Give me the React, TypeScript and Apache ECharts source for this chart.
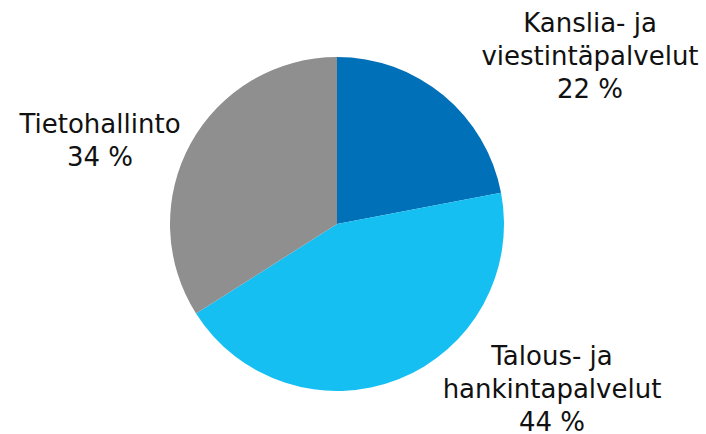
import React, { useEffect, useRef } from "react";
import * as echarts from "echarts";

const categories = ["Kanslia- ja\nviestintäpalvelut", "Talous- ja\nhankintapalvelut", "Tietohallinto"];
const values = [22, 44, 34];
const colors = ["#0070B8", "#16BFF1", "#8F8F8F"];
const labelPos = [
  [590, 56],
  [552, 389],
  [100, 140],
];

export default function App() {
  const ref = useRef<HTMLDivElement>(null);
  useEffect(() => {
    document.body.style.margin = "0";
    const chart = echarts.init(ref.current!, null, { renderer: "svg" });
    chart.setOption({
      animation: false,
      backgroundColor: "#ffffff",
      series: [
        {
          type: "pie",
          center: [337, 224],
          radius: 167,
          startAngle: 90,
          clockwise: true,
          data: categories.map((name, i) => ({
            name,
            value: values[i],
            itemStyle: { color: colors[i] },
          })),
          label: {
            show: true,
            position: "outside",
            alignTo: "none",
            overflow: "none",
            width: 400,
            formatter: (p: any) => `${p.name}\n${p.value} %`,
            fontFamily: "DejaVu Sans",
            fontSize: 26,
            lineHeight: 33,
            color: "#111111",
            align: "center",
          },
          labelLine: { show: false },
          labelLayout: (p: any) => ({
            x: labelPos[p.dataIndex][0],
            y: labelPos[p.dataIndex][1],
            align: "center",
            verticalAlign: "middle",
          }),
          itemStyle: { borderWidth: 0 },
          emphasis: { disabled: true },
        },
      ],
    });
    return () => chart.dispose();
  }, []);
  return <div ref={ref} style={{ width: 706, height: 434 }} />;
}
